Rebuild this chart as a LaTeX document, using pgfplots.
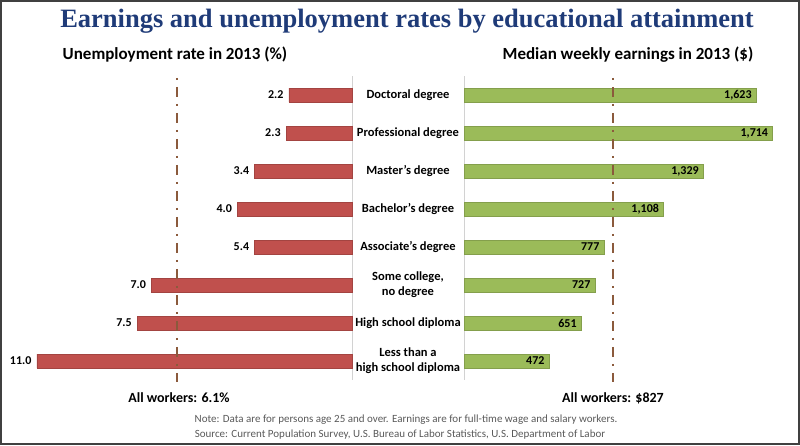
\documentclass[border=0pt]{standalone}
\usepackage{pgfplots}
\pgfplotsset{compat=1.18}
\usepackage{fontspec}
\setmainfont{Carlito}
\newfontfamily\titlefont{Liberation Serif}

\definecolor{barred}{HTML}{C0504D}
\definecolor{bargreen}{HTML}{9BBB59}
\definecolor{titleblue}{HTML}{1F3B78}
\definecolor{avgline}{HTML}{8B5A3C}
\definecolor{notegray}{HTML}{595959}

\pgfplotsset{avgstyle/.style={draw=avgline, line width=1.6pt, mark=none,
    dash pattern=on 2pt off 7pt on 10pt off 7pt}}

\begin{document}
\begin{tikzpicture}[x=1pt,y=1pt]
\useasboundingbox (0,0) rectangle (800,445);
\draw[line width=2pt, black!75] (1,1) rectangle (799,444);

% titles
\node[font=\titlefont\bfseries\fontsize{26.5}{30}\selectfont, text=titleblue] at (407,424) {Earnings and unemployment rates by educational attainment};
\node[font=\bfseries\fontsize{17}{20}\selectfont] at (175,390) {Unemployment rate in 2013 (\%)};
\node[font=\bfseries\fontsize{17}{20}\selectfont] at (628,390) {Median weekly earnings in 2013 (\$)};

% left: unemployment (the source draws the 5.4 bar at the length of 3.4)
\begin{axis}[
    at={(352pt,65pt)}, anchor=south east,
    scale only axis, width=343.7pt, height=304pt,
    x dir=reverse, y dir=reverse,
    xmin=0, xmax=12, ymin=-0.5, ymax=7.5,
    hide axis, clip=false,
    bar width=14pt,
]
\draw[gray!35, line width=0.8pt] (axis cs:0,-0.5) -- (axis cs:0,7.5);
\addplot[xbar, fill=barred, draw=barred!85!black, line width=0.4pt,
    point meta=explicit symbolic,
    nodes near coords,
    every node near coord/.append style={anchor=east, xshift=-2pt, text=black, font=\bfseries\fontsize{12}{14}\selectfont}]
    coordinates {(2.2,0) [2.2] (2.3,1) [2.3] (3.4,2) [3.4] (4.0,3) [4.0]
                 (3.4,4) [5.4] (7.0,5) [7.0] (7.5,6) [7.5] (11.0,7) [11.0]};
\addplot[avgstyle] coordinates {(6.1,-0.45) (6.1,7.55)};
\end{axis}

% right: earnings
\begin{axis}[
    at={(464pt,65pt)}, anchor=south west,
    scale only axis, width=333pt, height=304pt,
    y dir=reverse,
    xmin=0, xmax=1850, ymin=-0.5, ymax=7.5,
    hide x axis, axis y line*=left,
    y axis line style={draw=gray!35, line width=0.8pt},
    major tick length=0pt,
    ytick={0,...,7},
    yticklabels={Doctoral degree, Professional degree, Master's degree, Bachelor's degree, Associate’s degree, {Some college,\\no degree}, High school diploma, {Less than a\\high school diploma}},
    yticklabel style={align=center, anchor=center, xshift=-56pt, font=\bfseries\fontsize{12.5}{15}\selectfont},
    clip=false,
    bar width=14pt,
    /pgf/number format/assume math mode=true,
]
\addplot[xbar, fill=bargreen, draw=bargreen!85!black, line width=0.4pt,
    point meta=x,
    nodes near coords={\pgfmathprintnumber[1000 sep={,}]{\pgfplotspointmeta}},
    every node near coord/.append style={anchor=east, xshift=-1pt, text=black, font=\bfseries\fontsize{12}{14}\selectfont}]
    coordinates {(1623,0) (1714,1) (1329,2) (1108,3) (777,4) (727,5) (651,6) (472,7)};
\addplot[avgstyle] coordinates {(827,-0.45) (827,7.55)};
\end{axis}

% bottom texts
\node[font=\bfseries\fontsize{14}{16}\selectfont] at (179,47) {All workers: 6.1\%};
\node[font=\bfseries\fontsize{14}{16}\selectfont] at (613,47) {All workers: \$827};
\node[font=\fontsize{11}{13}\selectfont, text=notegray] at (406,25) {Note: Data are for persons age 25 and over. Earnings are for full-time wage and salary workers.};
\node[font=\fontsize{11}{13}\selectfont, text=notegray] at (400,10) {Source: Current Population Survey, U.S. Bureau of Labor Statistics, U.S. Department of Labor};
\end{tikzpicture}
\end{document}
